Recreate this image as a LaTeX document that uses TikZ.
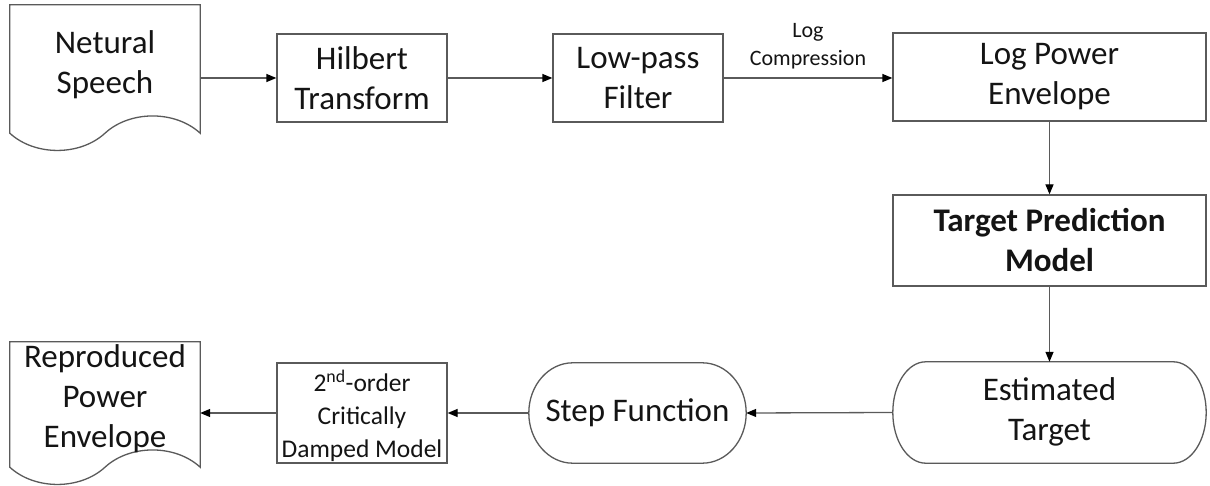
\documentclass[tikz,border=0pt]{standalone}
\usepackage{fontspec}
\setmainfont{Carlito}
\usetikzlibrary{arrows.meta,calc}
\definecolor{edge}{HTML}{5A5A5A}
\definecolor{ink}{HTML}{141414}
\tikzset{
  boxline/.style={draw=edge, line width=1.3pt},
  mainfont/.style={font=\fontsize{33}{40}\selectfont},
  blk/.style={boxline, rectangle, align=center, text=ink, mainfont, inner sep=0pt},
  area/.style={rectangle, inner sep=0pt, draw=none},
  txt/.style={align=center, text=ink, mainfont, inner sep=0pt},
  flow/.style={draw=edge, line width=1.3pt, -{Triangle[length=10pt,width=8pt,color=black]}},
}
% document symbol: straight top and sides, wavy bottom
\newcommand\docoutline[1]{%
  \draw[boxline, line join=miter] (#1.south west) -- (#1.north west) -- (#1.north east) -- (#1.south east)
    .. controls +(-25,-23) and ($(#1.south)+(25,-23)$) .. (#1.south)
    .. controls +(-25,23) and ($(#1.south west)+(25,23)$) .. (#1.south west) -- cycle;
}
% terminator symbol: straight top and bottom, elliptical ends
\newcommand\terminatoroutline[2]{%
  \coordinate (#1-tl) at ($(#1.north west)+(#2,0)$);
  \coordinate (#1-tr) at ($(#1.north east)+(-#2,0)$);
  \coordinate (#1-bl) at ($(#1.south west)+(#2,0)$);
  \coordinate (#1-br) at ($(#1.south east)+(-#2,0)$);
  \draw[boxline] (#1-tl) -- (#1-tr)
    .. controls ($(#1-tr)!0.5523!(#1.north east)$) and ($(#1.east)!0.5523!(#1.north east)$) .. (#1.east)
    .. controls ($(#1.east)!0.5523!(#1.south east)$) and ($(#1-br)!0.5523!(#1.south east)$) .. (#1-br)
    -- (#1-bl)
    .. controls ($(#1-bl)!0.5523!(#1.south west)$) and ($(#1.west)!0.5523!(#1.south west)$) .. (#1.west)
    .. controls ($(#1.west)!0.5523!(#1.north west)$) and ($(#1-tl)!0.5523!(#1.north west)$) .. (#1-tl) -- cycle;
}
\begin{document}
\begin{tikzpicture}[x=1pt, y=-1pt]
  \fill[white] (0,0) rectangle (1210,486);
  \useasboundingbox (0,0) rectangle (1210,486);

  % top row
  \node[area, minimum width=190pt, minimum height=128pt] (ns) at (105,69) {};
  \docoutline{ns}
  \node[txt] (nst) at (105,65) {Netural\\Speech};

  \node[blk, minimum width=170pt, minimum height=88pt] (hil) at (362,78) {Hilbert\\Transform};
  \node[blk, minimum width=170pt, minimum height=88pt] (lp) at (638,78) {Low-pass\\Filter};
  \node[blk, minimum width=313pt, minimum height=88pt] (lpe) at (1049.5,77) {Log Power\\Envelope};

  % right column
  \node[blk, minimum width=313pt, minimum height=91pt, font=\fontsize{33}{40}\selectfont\bfseries] (tpm) at (1049.5,240.5) {Target Prediction\\Model};

  % bottom row
  \node[area, minimum width=313pt, minimum height=101pt] (et) at (1049.5,412.5) {};
  \terminatoroutline{et}{33}
  \node[txt] (ett) at (1049.5,412) {Estimated\\Target};

  \node[area, minimum width=217pt, minimum height=100pt] (sf) at (637.5,413) {};
  \terminatoroutline{sf}{44}
  \node[txt] (sft) at (637.5,413) {Step Function};

  \node[blk, minimum width=170pt, minimum height=100pt] (cdm) at (362,413) {};
  \node[txt, font=\fontsize{25.5}{33}\selectfont] (cdmt) at (362,416) {2\textsuperscript{nd}-order\\Critically\\Damped Model};

  \node[area, minimum width=190pt, minimum height=125pt] (rp) at (105,404.5) {};
  \docoutline{rp}
  \node[txt] (rpt) at (105,399) {Reproduced\\Power\\Envelope};

  % connectors
  \draw[flow] (ns.east |- hil.west) -- (hil.west);
  \draw[flow] (hil.east) -- (lp.west);
  \draw[flow] (lp.east) -- (lp.east -| lpe.west)
    node[midway, above=8pt, inner sep=0pt, align=center, text=ink, font=\fontsize{22}{28}\selectfont] (lc) {Log\\Compression};
  \draw[flow] (lpe.south) -- (tpm.north);
  \draw[flow] (tpm.south) -- (et.north);
  \draw[flow] (et.west) -- (sf.east);
  \draw[flow] (sf.west) -- (cdm.east);
  \draw[flow] (cdm.west) -- (cdm.west -| rp.east);
\end{tikzpicture}
\end{document}
